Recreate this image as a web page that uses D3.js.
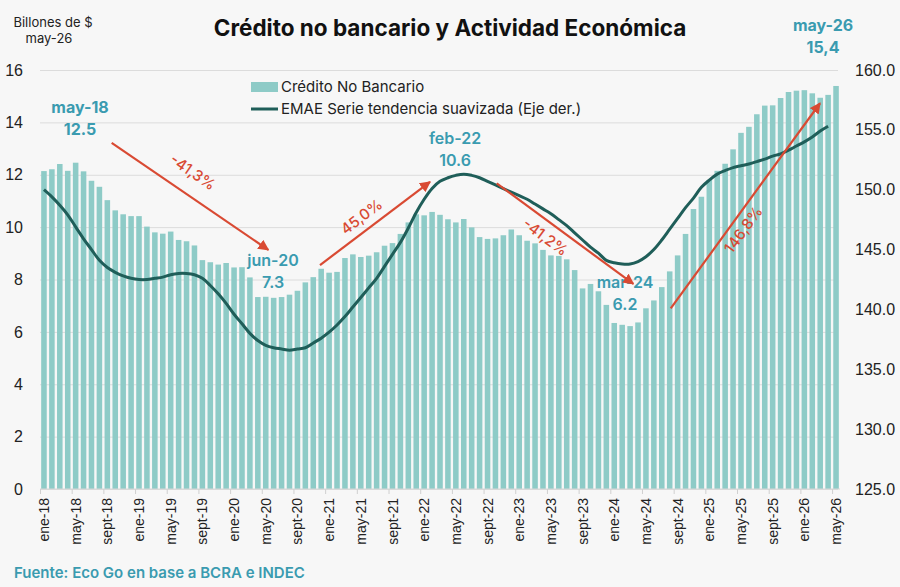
<!DOCTYPE html>
<html>
<head>
    <meta charset="utf-8">
    <script src="https://d3js.org/d3.v7.min.js"></script>
    <style>
        body {
            margin: 0;
            background-color: #f7f7f7;
        }

        svg {
            display: block;
            font-family: Inter, "Noto Sans", sans-serif;
        }

        .axis text {
            font-family: "Liberation Sans", Arial, sans-serif;
            fill: #222;
        }

        .axis path {
            display: none;
        }

        .grid line {
            stroke: #dcdcdc;
        }

        .callout {
            fill: #3a9bb0;
            font-weight: 600;
            font-size: 16px;
            text-anchor: middle;
        }
    </style>
</head>
<body>
    <div id="chart"></div>
    <script>
        // Meses y años del eje
        const monthNames = ['ene', 'feb', 'mar', 'abr', 'may', 'jun', 'jul', 'ago', 'sept', 'oct', 'nov', 'dic']
        const years = ['18', '19', '20', '21', '22', '23', '24', '25', '26']

        // Crédito no bancario, billones de $ de may-26 (ene-18 .. may-26)
        const credito = [
            12.14, 12.21, 12.41, 12.15, 12.46, 12.13, 11.77, 11.54, 11.03, 10.64, 10.49, 10.42,
            10.42, 10.02, 9.80, 9.75, 9.83, 9.51, 9.46, 9.30, 8.74, 8.66, 8.57, 8.63,
            8.46, 8.47, 8.08, 7.33, 7.34, 7.30, 7.33, 7.42, 7.57, 7.89, 8.09, 8.41,
            8.26, 8.29, 8.82, 8.96, 8.86, 8.91, 9.04, 9.29, 9.39, 9.74, 10.18, 10.49,
            10.45, 10.58, 10.47, 10.30, 10.18, 10.31, 9.99, 9.62, 9.55, 9.57, 9.69, 9.91,
            9.69, 9.48, 9.38, 9.13, 8.92, 8.90, 8.77, 8.36, 7.66, 7.83, 7.55, 7.03,
            6.34, 6.27, 6.22, 6.36, 6.90, 7.20, 7.71, 8.31, 8.92, 9.74, 10.69, 11.16,
            11.80, 12.15, 12.42, 12.97, 13.60, 13.83, 14.31, 14.64, 14.65, 14.93, 15.16, 15.21,
            15.23, 15.11, 14.94, 15.05, 15.39
        ]

        // EMAE serie tendencia (eje derecho), ene-18 .. mar-26
        const emae = [
            150.0, 149.4, 148.7, 147.9, 146.9, 145.9, 145.0, 144.1, 143.5, 143.1, 142.8, 142.6,
            142.5, 142.5, 142.6, 142.7, 142.9, 143.0, 143.0, 142.9, 142.6, 142.0, 141.3, 140.5,
            139.6, 138.8, 138.0, 137.4, 137.0, 136.8, 136.7, 136.6, 136.7, 136.8, 137.2, 137.6,
            138.1, 138.7, 139.4, 140.2, 141.0, 141.8, 142.6, 143.6, 144.6, 145.6, 146.8, 148.1,
            149.2, 150.1, 150.7, 151.0, 151.2, 151.3, 151.2, 151.0, 150.7, 150.4, 150.1, 149.8,
            149.5, 149.2, 148.8, 148.4, 148.0, 147.5, 147.0, 146.4, 145.8, 145.2, 144.7, 144.1,
            143.9, 143.8, 143.8, 144.0, 144.4, 145.0, 145.8, 146.7, 147.6, 148.5, 149.3, 150.2,
            150.8, 151.3, 151.6, 151.85, 152.0, 152.15, 152.35, 152.55, 152.8, 153.0, 153.3, 153.65,
            154.0, 154.4, 154.9, 155.3
        ]

        const leftTicks = [0, 2, 4, 6, 8, 10, 12, 14, 16]
        const rightTicks = [125, 130, 135, 140, 145, 150, 155, 160]

        // Flechas de variación: [mes desde el inicio, valor eje izq.]
        const arrows = [
            { from: [9.05, 13.22], to: [28.83, 9.13], label: '-41,3%', at: [19.3, 12.1] },
            { from: [35.35, 8.55], to: [49.24, 11.73], label: '45,0%', at: [40.6, 10.4] },
            { from: [57.66, 11.67], to: [74.91, 7.83], label: '-41,2%', at: [63.8, 9.62] },
            { from: [79.63, 6.90], to: [98.48, 14.73], label: '146,8%', at: [88.8, 9.9] }
        ]

        // Etiquetas de puntos destacados
        const callouts = [
            { month: 'may-18', value: '12.5', at: [5.05, 14.59], bold: true },
            { month: 'jun-20', value: '7.3', at: [29.42, 8.74] },
            { month: 'feb-22', value: '10.6', at: [52.4, 13.4] },
            { month: 'mar-24', value: '6.2', at: [73.86, 7.9] },
            { month: 'may-26', value: '15,4', at: [98.86, 17.72], bold: true }
        ]

        const w = 900
        const h = 587
        const margin = { left: 40, right: 60, top: 70, bottom: 98 }
        const plotRight = w - margin.right
        const plotBottom = h - margin.bottom

        const months = []
        years.forEach(y => monthNames.forEach(m => months.push(m + '-' + y)))
        const cats = months.slice(0, credito.length)

        const svg = d3.select('#chart')
            .append('svg')
            .attr('width', w)
            .attr('height', h)

        const x = d3.scaleBand()
            .domain(cats)
            .range([margin.left, plotRight])
            .paddingInner(0.3)
            .paddingOuter(0.15)
        const xm = d3.scaleLinear()
            .domain([0, cats.length])
            .range([margin.left, plotRight])
        const y = d3.scaleLinear()
            .domain([0, 16])
            .range([plotBottom, margin.top])
        const y2 = d3.scaleLinear()
            .domain([125, 160])
            .range([plotBottom, margin.top])

        // grilla
        svg.append('g')
            .attr('class', 'grid')
            .attr('transform', `translate(${margin.left}, 0)`)
            .call(d3.axisLeft(y).tickValues(leftTicks).tickSize(-(plotRight - margin.left - 2)).tickFormat(''))
            .call(g => g.select('.domain').remove())

        // barras
        svg.selectAll('rect.bar')
            .data(credito)
            .enter()
            .append('rect')
            .attr('class', 'bar')
            .attr('x', (d, i) => x(cats[i]))
            .attr('y', d => y(d))
            .attr('width', x.bandwidth())
            .attr('height', d => y(0) - y(d))
            .attr('fill', '#8ecbc7')

        // eje x
        svg.append('line')
            .attr('x1', margin.left).attr('x2', plotRight)
            .attr('y1', plotBottom).attr('y2', plotBottom)
            .attr('stroke', '#d6d6d6')
        svg.append('g')
            .attr('transform', `translate(0, ${plotBottom})`)
            .call(d3.axisBottom(xm).tickValues(d3.range(0, cats.length, 4)).tickSize(5).tickFormat(''))
            .call(g => g.select('.domain').remove())
            .call(g => g.selectAll('line').attr('stroke', '#d0d0d0'))
        svg.append('g')
            .attr('class', 'axis')
            .attr('transform', `translate(0, ${plotBottom})`)
            .call(d3.axisBottom(x).tickValues(cats.filter((d, i) => i % 4 === 0)).tickSize(0))
            .selectAll('text')
            .attr('transform', 'rotate(-90)')
            .attr('x', -9)
            .attr('y', 0)
            .attr('dy', '0.36em')
            .style('text-anchor', 'end')
            .style('font-size', '14px')

        // ejes y
        svg.append('g')
            .attr('class', 'axis')
            .attr('transform', `translate(23, 0)`)
            .call(d3.axisLeft(y).tickValues(leftTicks).tickSize(0).tickPadding(0))
            .selectAll('text')
            .style('font-size', '16px')
        svg.append('g')
            .attr('class', 'axis')
            .attr('transform', `translate(855, 0)`)
            .call(d3.axisRight(y2).tickValues(rightTicks).tickSize(0).tickPadding(0).tickFormat(d3.format('.1f')))
            .selectAll('text')
            .style('font-size', '16px')

        // línea EMAE
        const line = d3.line()
            .x((d, i) => x(cats[i]) + x.bandwidth() / 2)
            .y(d => y2(d))
            .curve(d3.curveCatmullRom.alpha(0.5))
        svg.append('path')
            .datum(emae)
            .attr('d', line)
            .attr('fill', 'none')
            .attr('stroke', '#1f5e59')
            .attr('stroke-width', 3)

        // etiquetas destacadas
        callouts.forEach(c => {
            const cx = xm(c.at[0])
            const cy = y(c.at[1])
            svg.append('text')
                .attr('class', 'callout')
                .attr('x', cx).attr('y', cy)
                .attr('dy', '0.35em')
                .style('font-weight', c.bold ? 700 : 600)
                .text(c.month)
            svg.append('text')
                .attr('class', 'callout')
                .attr('x', cx).attr('y', cy + 22)
                .attr('dy', '0.35em')
                .style('font-weight', c.bold ? 700 : 600)
                .text(c.value)
        })

        // flechas
        const red = '#d94a33'
        svg.append('defs').append('marker')
            .attr('id', 'head')
            .attr('viewBox', '0 0 10 10')
            .attr('refX', 9).attr('refY', 5)
            .attr('markerWidth', 5).attr('markerHeight', 5)
            .attr('orient', 'auto')
            .append('path')
            .attr('d', 'M0,0 L10,5 L0,10 Z')
            .attr('fill', red)

        arrows.forEach(a => {
            const x1 = xm(a.from[0]), y1 = y(a.from[1])
            const x2 = xm(a.to[0]), y2p = y(a.to[1])
            const ang = Math.atan2(y2p - y1, x2 - x1) * 180 / Math.PI
            svg.append('line')
                .attr('x1', x1).attr('y1', y1)
                .attr('x2', x2).attr('y2', y2p)
                .attr('stroke', red)
                .attr('stroke-width', 2.2)
                .attr('marker-end', 'url(#head)')
            const lx = xm(a.at[0]), ly = y(a.at[1])
            svg.append('text')
                .attr('transform', `translate(${lx}, ${ly}) rotate(${ang})`)
                .attr('dy', '0.35em')
                .attr('text-anchor', 'middle')
                .attr('fill', red)
                .style('font-size', '15px')
                .style('font-weight', 500)
                .text(a.label)
        })

        // título y textos
        svg.append('text')
            .attr('x', 450).attr('y', 36)
            .attr('text-anchor', 'middle')
            .style('font-size', '22.5px')
            .style('font-weight', 700)
            .attr('fill', '#111')
            .text('Crédito no bancario y Actividad Económica')
        svg.append('text')
            .attr('x', 53).attr('y', 27)
            .attr('text-anchor', 'middle')
            .style('font-size', '13px')
            .attr('fill', '#222')
            .text('Billones de $')
        svg.append('text')
            .attr('x', 49).attr('y', 43)
            .attr('text-anchor', 'middle')
            .style('font-size', '13px')
            .attr('fill', '#222')
            .text('may-26')
        svg.append('text')
            .attr('x', 14).attr('y', 578)
            .style('font-size', '15px')
            .style('font-weight', 600)
            .attr('fill', '#3a9bb0')
            .text('Fuente: Eco Go en base a BCRA e INDEC')

        // leyenda
        const lg = svg.append('g').attr('transform', 'translate(251, 0)')
        lg.append('rect')
            .attr('x', 0).attr('y', 82)
            .attr('width', 27).attr('height', 10)
            .attr('fill', '#8ecbc7')
        lg.append('text')
            .attr('x', 30).attr('y', 87)
            .attr('dy', '0.35em')
            .style('font-size', '15px')
            .attr('fill', '#222')
            .text('Crédito No Bancario')
        lg.append('line')
            .attr('x1', 0).attr('x2', 27)
            .attr('y1', 109).attr('y2', 109)
            .attr('stroke', '#1f5e59')
            .attr('stroke-width', 3)
        lg.append('text')
            .attr('x', 30).attr('y', 109)
            .attr('dy', '0.35em')
            .style('font-size', '15px')
            .attr('fill', '#222')
            .text('EMAE Serie tendencia suavizada (Eje der.)')
    </script>
</body>
</html>
